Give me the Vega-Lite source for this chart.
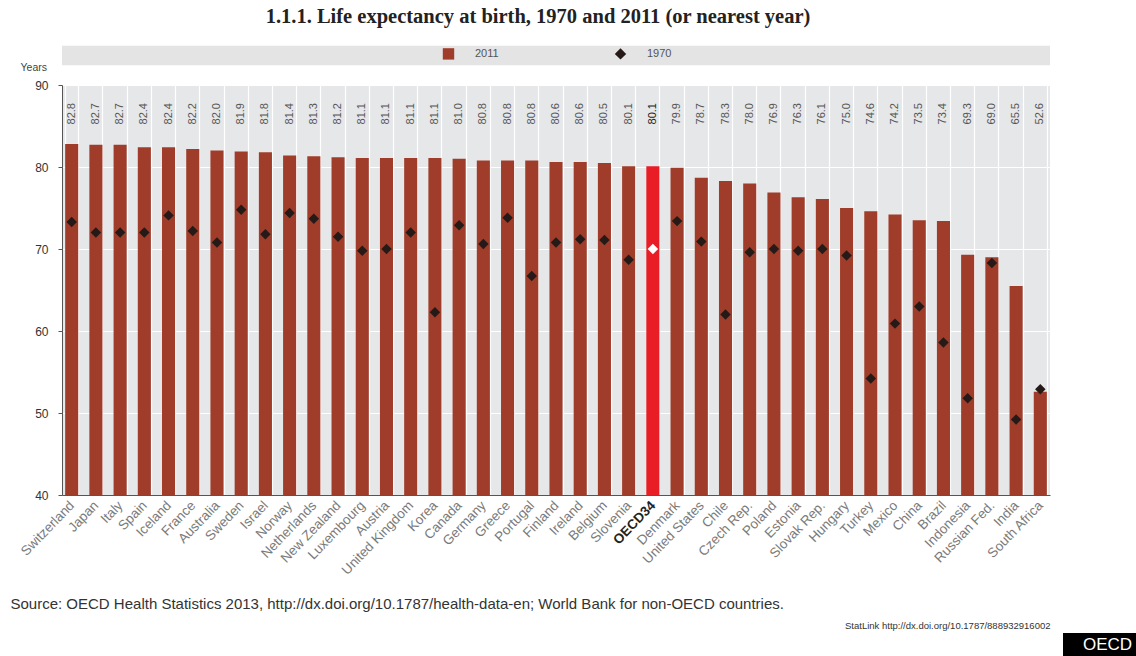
{
  "$schema": "https://vega.github.io/schema/vega-lite/v6.json",
  "autosize": {"type": "none"},
  "padding": {"left": 62, "top": 85, "right": 86, "bottom": 161},
  "width": 988,
  "height": 410,
  "title": {
    "text": "1.1.1.  Life expectancy at birth, 1970 and 2011 (or nearest year)",
    "anchor": "middle",
    "frame": "group",
    "offset": 18,
    "dx": -18,
    "font": "Liberation Serif",
    "fontSize": 20.5,
    "fontWeight": "bold",
    "color": "#222222"
  },
  "config": {
    "view": {"fill": "#e6e7e9", "stroke": null},
    "font": "Liberation Sans, sans-serif"
  },
  "data": {
    "values": [
      {"country": "Switzerland", "year": "2011", "value": 82.8},
      {"country": "Japan", "year": "2011", "value": 82.7},
      {"country": "Italy", "year": "2011", "value": 82.7},
      {"country": "Spain", "year": "2011", "value": 82.4},
      {"country": "Iceland", "year": "2011", "value": 82.4},
      {"country": "France", "year": "2011", "value": 82.2},
      {"country": "Australia", "year": "2011", "value": 82.0},
      {"country": "Sweden", "year": "2011", "value": 81.9},
      {"country": "Israel", "year": "2011", "value": 81.8},
      {"country": "Norway", "year": "2011", "value": 81.4},
      {"country": "Netherlands", "year": "2011", "value": 81.3},
      {"country": "New Zealand", "year": "2011", "value": 81.2},
      {"country": "Luxembourg", "year": "2011", "value": 81.1},
      {"country": "Austria", "year": "2011", "value": 81.1},
      {"country": "United Kingdom", "year": "2011", "value": 81.1},
      {"country": "Korea", "year": "2011", "value": 81.1},
      {"country": "Canada", "year": "2011", "value": 81.0},
      {"country": "Germany", "year": "2011", "value": 80.8},
      {"country": "Greece", "year": "2011", "value": 80.8},
      {"country": "Portugal", "year": "2011", "value": 80.8},
      {"country": "Finland", "year": "2011", "value": 80.6},
      {"country": "Ireland", "year": "2011", "value": 80.6},
      {"country": "Belgium", "year": "2011", "value": 80.5},
      {"country": "Slovenia", "year": "2011", "value": 80.1},
      {"country": "OECD34", "year": "2011", "value": 80.1},
      {"country": "Denmark", "year": "2011", "value": 79.9},
      {"country": "United States", "year": "2011", "value": 78.7},
      {"country": "Chile", "year": "2011", "value": 78.3},
      {"country": "Czech Rep.", "year": "2011", "value": 78.0},
      {"country": "Poland", "year": "2011", "value": 76.9},
      {"country": "Estonia", "year": "2011", "value": 76.3},
      {"country": "Slovak Rep.", "year": "2011", "value": 76.1},
      {"country": "Hungary", "year": "2011", "value": 75.0},
      {"country": "Turkey", "year": "2011", "value": 74.6},
      {"country": "Mexico", "year": "2011", "value": 74.2},
      {"country": "China", "year": "2011", "value": 73.5},
      {"country": "Brazil", "year": "2011", "value": 73.4},
      {"country": "Indonesia", "year": "2011", "value": 69.3},
      {"country": "Russian Fed.", "year": "2011", "value": 69.0},
      {"country": "India", "year": "2011", "value": 65.5},
      {"country": "South Africa", "year": "2011", "value": 52.6},
      {"country": "Switzerland", "year": "1970", "value": 73.3},
      {"country": "Japan", "year": "1970", "value": 72.0},
      {"country": "Italy", "year": "1970", "value": 72.0},
      {"country": "Spain", "year": "1970", "value": 72.0},
      {"country": "Iceland", "year": "1970", "value": 74.1},
      {"country": "France", "year": "1970", "value": 72.2},
      {"country": "Australia", "year": "1970", "value": 70.8},
      {"country": "Sweden", "year": "1970", "value": 74.8},
      {"country": "Israel", "year": "1970", "value": 71.8},
      {"country": "Norway", "year": "1970", "value": 74.4},
      {"country": "Netherlands", "year": "1970", "value": 73.7},
      {"country": "New Zealand", "year": "1970", "value": 71.5},
      {"country": "Luxembourg", "year": "1970", "value": 69.8},
      {"country": "Austria", "year": "1970", "value": 70.0},
      {"country": "United Kingdom", "year": "1970", "value": 72.0},
      {"country": "Korea", "year": "1970", "value": 62.3},
      {"country": "Canada", "year": "1970", "value": 72.9},
      {"country": "Germany", "year": "1970", "value": 70.6},
      {"country": "Greece", "year": "1970", "value": 73.8},
      {"country": "Portugal", "year": "1970", "value": 66.7},
      {"country": "Finland", "year": "1970", "value": 70.8},
      {"country": "Ireland", "year": "1970", "value": 71.2},
      {"country": "Belgium", "year": "1970", "value": 71.1},
      {"country": "Slovenia", "year": "1970", "value": 68.7},
      {"country": "OECD34", "year": "1970", "value": 70.0},
      {"country": "Denmark", "year": "1970", "value": 73.4},
      {"country": "United States", "year": "1970", "value": 70.9},
      {"country": "Chile", "year": "1970", "value": 62.0},
      {"country": "Czech Rep.", "year": "1970", "value": 69.6},
      {"country": "Poland", "year": "1970", "value": 70.0},
      {"country": "Estonia", "year": "1970", "value": 69.8},
      {"country": "Slovak Rep.", "year": "1970", "value": 70.0},
      {"country": "Hungary", "year": "1970", "value": 69.2},
      {"country": "Turkey", "year": "1970", "value": 54.2},
      {"country": "Mexico", "year": "1970", "value": 60.9},
      {"country": "China", "year": "1970", "value": 63.0},
      {"country": "Brazil", "year": "1970", "value": 58.6},
      {"country": "Indonesia", "year": "1970", "value": 51.8},
      {"country": "Russian Fed.", "year": "1970", "value": 68.3},
      {"country": "India", "year": "1970", "value": 49.2},
      {"country": "South Africa", "year": "1970", "value": 52.9}
    ]
  },
  "resolve": {"axis": {"x": "independent"}},
  "layer": [
    {
      "data": {"values": [{}]},
      "mark": {"type": "rect", "fill": "#e4e4e4"},
      "encoding": {
        "y": {"datum": 92.4, "type": "quantitative"},
        "y2": {"datum": 94.8},
        "opacity": {
          "datum": "OECD",
          "type": "ordinal",
          "scale": {"range": [1, 1]},
          "legend": {
            "orient": "none",
            "legendX": 1001,
            "legendY": 548,
            "title": null,
            "fillColor": "#000000",
            "padding": 3,
            "symbolSize": 0,
            "symbolStrokeWidth": 0,
            "symbolOpacity": 0,
            "labelOffset": 0,
            "labelColor": "#ffffff",
            "labelFont": "Liberation Sans",
            "labelFontSize": 17
          }
        }
      }
    },
    {
      "transform": [{"filter": "datum.year === '2011'"}],
      "mark": {"type": "bar"},
      "encoding": {
        "x": {
          "field": "country",
          "type": "nominal",
          "sort": null,
          "scale": {"paddingInner": 0.46, "paddingOuter": 0.13},
          "axis": {
            "title": "Source: OECD Health Statistics 2013, http://dx.doi.org/10.1787/health-data-en; World Bank for non-OECD countries.",
            "titleAnchor": "start",
            "titleAlign": "left",
            "titleX": -52,
            "titleY": 108,
            "titleBaseline": "middle",
            "titleFontSize": 15,
            "titleFontWeight": "normal",
            "titleColor": "#333333",
            "labelAngle": -46,
            "labelAlign": "right",
            "labelBaseline": "middle",
            "labelPadding": 8,
            "labelFontSize": 13.5,
            "labelColor": {"condition": {"test": "datum.value === 'OECD34'", "value": "#222222"}, "value": "#7a7a7a"},
            "labelFontWeight": {"condition": {"test": "datum.value === 'OECD34'", "value": "bold"}, "value": "normal"},
            "ticks": false,
            "domain": true,
            "domainColor": "#555555",
            "grid": true,
            "gridColor": "#ffffff",
            "gridWidth": 1.2,
            "tickBand": "extent"
          }
        },
        "y": {
          "field": "value",
          "type": "quantitative",
          "stack": null,
          "scale": {"domain": [40, 90], "nice": false, "zero": false},
          "axis": {
            "values": [40, 50, 60, 70, 80, 90],
            "title": "Years",
            "titleAngle": 0,
            "titleX": -42,
            "titleY": -18,
            "titleAlign": "left",
            "titleBaseline": "middle",
            "titleFontSize": 10.5,
            "titleFontWeight": "normal",
            "titleColor": "#444444",
            "grid": true,
            "gridColor": "#ffffff",
            "gridWidth": 1.2,
            "domainColor": "#555555",
            "tickColor": "#555555",
            "tickSize": 4,
            "labelFontSize": 12,
            "labelColor": "#333333",
            "labelPadding": 10
          }
        },
        "color": {
          "field": "year",
          "type": "nominal",
          "scale": {"domain": ["2011", "1970"], "range": ["#a03c2a", "#261a18"]},
          "condition": {"test": "datum.country === 'OECD34'", "value": "#e91d25"},
          "legend": {
            "orient": "none",
            "legendX": 380,
            "legendY": -38,
            "direction": "horizontal",
            "title": null,
            "padding": 0,
            "symbolSize": 130,
            "labelOffset": 20,
            "columnPadding": 115,
            "labelFontSize": 11,
            "labelColor": "#555555"
          }
        }
      }
    },
    {
      "transform": [{"filter": "datum.year === '1970'"}],
      "mark": {"type": "point", "filled": true, "size": 110, "opacity": 1},
      "encoding": {
        "x": {"field": "country", "type": "nominal", "sort": null, "axis": null},
        "y": {"field": "value", "type": "quantitative"},
        "shape": {
          "field": "year",
          "type": "nominal",
          "scale": {"domain": ["2011", "1970"], "range": ["square", "diamond"]},
          "legend": {
            "orient": "none",
            "legendX": 380,
            "legendY": -38,
            "direction": "horizontal",
            "title": null,
            "padding": 0,
            "symbolSize": 130,
            "labelOffset": 20,
            "columnPadding": 115,
            "labelFontSize": 11,
            "labelColor": "#555555"
          }
        },
        "color": {
          "field": "year",
          "type": "nominal",
          "condition": {"test": "datum.country === 'OECD34'", "value": "#ffffff"},
          "legend": {
            "orient": "none",
            "legendX": 380,
            "legendY": -38,
            "direction": "horizontal",
            "title": null,
            "padding": 0,
            "symbolSize": 130,
            "labelOffset": 20,
            "columnPadding": 115,
            "labelFontSize": 11,
            "labelColor": "#555555"
          }
        }
      }
    },
    {
      "transform": [{"filter": "datum.year === '2011'"}],
      "mark": {"type": "text", "angle": 270, "align": "right", "baseline": "middle", "fontSize": 11, "color": "#555555"},
      "encoding": {
        "x": {
          "field": "country",
          "type": "nominal",
          "sort": null,
          "axis": {
            "orient": "bottom",
            "labels": false,
            "ticks": false,
            "domain": false,
            "grid": false,
            "title": "StatLink   http://dx.doi.org/10.1787/888932916002",
            "titleAnchor": "end",
            "titleAlign": "right",
            "titleX": 988,
            "titleY": 130,
            "titleBaseline": "middle",
            "titleFontSize": 9.5,
            "titleFontWeight": "normal",
            "titleColor": "#333333"
          }
        },
        "y": {"datum": 87.8, "type": "quantitative"},
        "text": {"field": "value", "type": "quantitative", "format": ".1f"},
        "fontWeight": {"condition": {"test": "datum.country === 'OECD34'", "value": "bold"}, "value": "normal"},
        "color": {"condition": {"test": "datum.country === 'OECD34'", "value": "#222222"}, "value": "#555555"}
      }
    }
  ]
}
